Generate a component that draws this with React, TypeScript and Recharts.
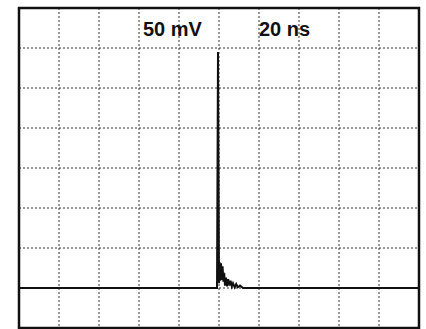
import { LineChart, Line, XAxis, YAxis, CartesianGrid, ReferenceArea } from "recharts";

// time in ns (20 ns/div), amplitude in mV (50 mV/div)
const timeNs = [0, 99, 99.5, 100, 100.3, 100.6, 101, 101.4, 101.8, 102.2, 102.6, 103, 103.5, 104, 104.6, 105.2, 105.8, 106.4, 107, 107.8, 108.6, 109.4, 110.5, 112, 200];
const voltMv = [0, 0, 295, 6, 32, 9, 31, 10, 27, 8, 19, 3, 13, 2, 11, 3, 9, 2, 6, 1, 5, 1, 3, 0, 0];

const xTicks = [0, 20, 40, 60, 80, 100, 120, 140, 160, 180, 200];
const yTicks = [-50, 0, 50, 100, 150, 200, 250, 300, 350];

const voltLabel = "50 mV";
const timeLabel = "20 ns";

const data = timeNs.map((t, i) => ({ t, v: voltMv[i] }));

const labelStyle = {
  position: "absolute" as const,
  top: 19,
  fontFamily: "'Liberation Sans', Arial, sans-serif",
  fontWeight: 700,
  fontSize: 20,
  lineHeight: "20px",
  color: "#111",
};

export default function App() {
  return (
    <div style={{ position: "absolute", left: 0, top: 0, width: 426, height: 329, background: "#fff" }}>
      <LineChart width={426} height={329} data={data} margin={{ top: 8, right: 7, bottom: 1, left: 19 }}>
        <CartesianGrid stroke="#333" strokeDasharray="2 2" strokeWidth={1} />
        <XAxis dataKey="t" type="number" domain={[0, 200]} ticks={xTicks} hide />
        <YAxis type="number" domain={[-50, 350]} ticks={yTicks} hide />
        <ReferenceArea x1={0} x2={200} y1={-50} y2={350} fill="none" stroke="#111" strokeWidth={2.5} fillOpacity={0} />
        <Line
          dataKey="v"
          type="linear"
          stroke="#111"
          strokeWidth={2}
          dot={false}
          isAnimationActive={false}
        />
      </LineChart>
      <div style={{ ...labelStyle, left: 143 }}>{voltLabel}</div>
      <div style={{ ...labelStyle, left: 259 }}>{timeLabel}</div>
    </div>
  );
}
